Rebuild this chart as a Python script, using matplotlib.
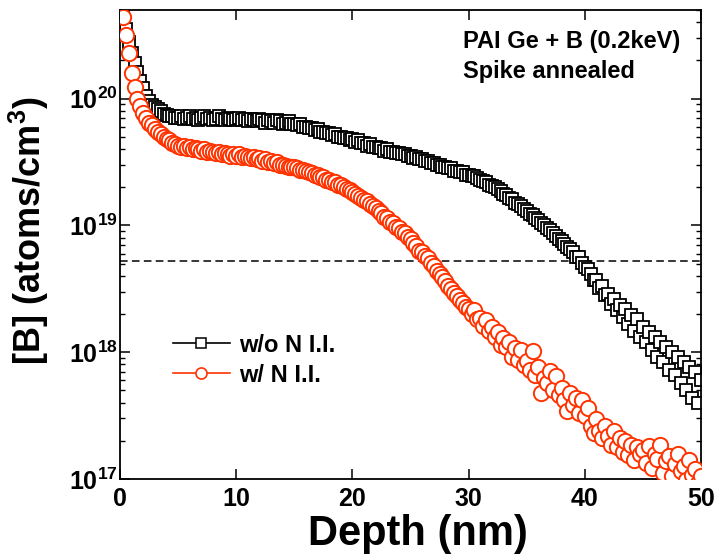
import matplotlib.pyplot as plt
import numpy as np
from matplotlib.lines import Line2D
from matplotlib.ticker import FixedLocator, LogLocator, NullFormatter

plt.rcParams['font.family'] = 'Liberation Sans'
plt.rcParams['font.weight'] = 'bold'
plt.rcParams['mathtext.fontset'] = 'custom'
plt.rcParams['mathtext.rm'] = 'Liberation Sans'
plt.rcParams['mathtext.bf'] = 'Liberation Sans:bold'

# depth (nm) of each SIMS point
depth = [
    0, 0.25, 0.5, 0.75, 1, 1.25, 1.5, 1.75, 2, 2.25, 2.5, 2.75, 3, 3.25, 3.5, 3.75, 4, 4.25, 4.5, 4.75,
    5, 5.25, 5.5, 5.75, 6, 6.25, 6.5, 6.75, 7, 7.25, 7.5, 7.75, 8, 8.25, 8.5, 8.75, 9, 9.25, 9.5, 9.75,
    10, 10.25, 10.5, 10.75, 11, 11.25, 11.5, 11.75, 12, 12.25, 12.5, 12.75, 13, 13.25, 13.5, 13.75, 14, 14.25, 14.5, 14.75,
    15, 15.25, 15.5, 15.75, 16, 16.25, 16.5, 16.75, 17, 17.25, 17.5, 17.75, 18, 18.25, 18.5, 18.75, 19, 19.25, 19.5, 19.75,
    20, 20.25, 20.5, 20.75, 21, 21.25, 21.5, 21.75, 22, 22.25, 22.5, 22.75, 23, 23.25, 23.5, 23.75, 24, 24.25, 24.5, 24.75,
    25, 25.25, 25.5, 25.75, 26, 26.25, 26.5, 26.75, 27, 27.25, 27.5, 27.75, 28, 28.25, 28.5, 28.75, 29, 29.25, 29.5, 29.75,
    30, 30.25, 30.5, 30.75, 31, 31.25, 31.5, 31.75, 32, 32.25, 32.5, 32.75, 33, 33.25, 33.5, 33.75, 34, 34.25, 34.5, 34.75,
    35, 35.25, 35.5, 35.75, 36, 36.25, 36.5, 36.75, 37, 37.25, 37.5, 37.75, 38, 38.25, 38.5, 38.75, 39, 39.25, 39.5, 39.75,
    40, 40.25, 40.5, 40.75, 41, 41.25, 41.5, 41.75, 42, 42.25, 42.5, 42.75, 43, 43.25, 43.5, 43.75, 44, 44.25, 44.5, 44.75,
    45, 45.25, 45.5, 45.75, 46, 46.25, 46.5, 46.75, 47, 47.25, 47.5, 47.75, 48, 48.25, 48.5, 48.75, 49, 49.25, 49.5, 49.75, 50,
]

# log10 of [B] (atoms/cm3), w/o N I.I.
log_b_without_n = [
    20.78, 20.66, 20.55, 20.45, 20.36, 20.28, 20.21, 20.14, 20.08, 20.02, 19.98, 19.95, 19.93, 19.92, 19.90, 19.88, 19.87, 19.86, 19.86, 19.85,
    19.85, 19.86, 19.84, 19.85, 19.86, 19.84, 19.85, 19.83, 19.85, 19.86, 19.84, 19.85, 19.83, 19.84, 19.86, 19.84, 19.83, 19.85, 19.84, 19.83,
    19.84, 19.85, 19.83, 19.84, 19.82, 19.84, 19.83, 19.82, 19.84, 19.83, 19.81, 19.83, 19.82, 19.81, 19.83, 19.82, 19.80, 19.81, 19.82, 19.80,
    19.80, 19.79, 19.80, 19.78, 19.78, 19.77, 19.77, 19.75, 19.76, 19.74, 19.74, 19.73, 19.73, 19.71, 19.72, 19.70, 19.70, 19.69, 19.69, 19.67,
    19.68, 19.66, 19.67, 19.65, 19.65, 19.63, 19.64, 19.62, 19.62, 19.61, 19.61, 19.59, 19.60, 19.58, 19.58, 19.57, 19.57, 19.56, 19.56, 19.55,
    19.55, 19.53, 19.54, 19.52, 19.52, 19.51, 19.51, 19.49, 19.49, 19.48, 19.48, 19.46, 19.46, 19.45, 19.45, 19.43, 19.43, 19.42, 19.42, 19.40,
    19.40, 19.39, 19.39, 19.37, 19.36, 19.35, 19.34, 19.32, 19.31, 19.30, 19.29, 19.27, 19.25, 19.24, 19.22, 19.21, 19.18, 19.17, 19.15, 19.13,
    19.11, 19.09, 19.08, 19.06, 19.04, 19.02, 19.00, 18.98, 18.96, 18.94, 18.92, 18.89, 18.88, 18.85, 18.83, 18.81, 18.79, 18.75, 18.75, 18.70,
    18.67, 18.66, 18.62, 18.57, 18.57, 18.51, 18.52, 18.45, 18.46, 18.38, 18.42, 18.33, 18.37, 18.28, 18.34, 18.22, 18.29, 18.17, 18.26, 18.12,
    18.20, 18.08, 18.16, 18.02, 18.12, 17.96, 18.08, 17.92, 18.04, 17.86, 18.00, 17.82, 17.96, 17.76, 17.92, 17.70, 17.88, 17.64, 17.84, 17.60, 17.78,
]

# log10 of [B] (atoms/cm3), w/ N I.I.
log_b_with_n = [
    20.75, 20.64, 20.50, 20.36, 20.20, 20.09, 20.00, 19.94, 19.89, 19.85, 19.81, 19.79, 19.76, 19.74, 19.72, 19.70, 19.68, 19.67, 19.65, 19.64,
    19.63, 19.62, 19.63, 19.61, 19.62, 19.60, 19.61, 19.60, 19.59, 19.60, 19.58, 19.59, 19.58, 19.57, 19.58, 19.56, 19.57, 19.56, 19.55, 19.56,
    19.55, 19.56, 19.54, 19.55, 19.54, 19.53, 19.54, 19.52, 19.53, 19.51, 19.52, 19.50, 19.51, 19.49, 19.50, 19.48, 19.48, 19.47, 19.46, 19.46,
    19.46, 19.45, 19.44, 19.44, 19.43, 19.42, 19.41, 19.40, 19.40, 19.38, 19.38, 19.36, 19.36, 19.34, 19.34, 19.32, 19.32, 19.30, 19.29, 19.28,
    19.26, 19.25, 19.23, 19.22, 19.20, 19.19, 19.17, 19.15, 19.14, 19.11, 19.10, 19.07, 19.06, 19.03, 19.02, 18.99, 18.98, 18.95, 18.94, 18.91,
    18.89, 18.86, 18.84, 18.80, 18.79, 18.76, 18.74, 18.70, 18.68, 18.64, 18.62, 18.59, 18.56, 18.52, 18.50, 18.47, 18.44, 18.41, 18.39, 18.36,
    18.34, 18.30, 18.33, 18.26, 18.27, 18.21, 18.25, 18.17, 18.20, 18.12, 18.16, 18.06, 18.11, 18.04, 18.08, 17.96, 18.03, 17.94, 18.02, 17.90,
    17.93, 17.86, 18.01, 17.82, 17.88, 17.68, 17.80, 17.76, 17.85, 17.70, 17.81, 17.66, 17.72, 17.62, 17.54, 17.68, 17.58, 17.64, 17.52, 17.62,
    17.50, 17.56, 17.42, 17.36, 17.47, 17.38, 17.32, 17.42, 17.34, 17.27, 17.38, 17.25, 17.32, 17.21, 17.30, 17.19, 17.27, 17.15, 17.25, 17.20,
    17.23, 17.13, 17.26, 17.09, 17.20, 17.16, 17.27, 17.05, 17.14, 17.18, 17.02, 17.12, 17.20, 17.06, 17.10, 16.99, 17.15, 17.03, 17.08, 16.97, 17.02,
]

dashed_level = 5.2e18
x_ticks = [0, 10, 20, 30, 40, 50]
y_decades = [17, 18, 19, 20]
labels = ['w/o N I.I.', 'w/ N I.I.']
note_lines = ['PAI Ge + B (0.2keV)', 'Spike annealed']

red = '#ff3300'

b_without_n = 10.0 ** np.array(log_b_without_n)
b_with_n = 10.0 ** np.array(log_b_with_n)

fig = plt.figure(figsize=(7.17, 5.58), dpi=100)
ax = fig.add_axes([0.1674, 0.1416, 0.8103, 0.8405])

ax.axhline(dashed_level, color='black', lw=1.1, ls=(0, (5, 2.8)), zorder=1)

ax.plot(depth, b_without_n, ls='none', marker='s', ms=9, mfc='white', mec='black', mew=1.3, zorder=2)
ax.plot(depth, b_with_n, ls='none', marker='o', ms=11, mfc='white', mec=red, mew=1.4, zorder=3)

ax.set_yscale('log')
ax.set_xlim(0, 50)
ax.set_ylim(1e17, 5e20)

ax.set_xticks(x_ticks)
ax.set_xticklabels([str(t) for t in x_ticks])
ax.yaxis.set_major_locator(FixedLocator([10.0 ** d for d in y_decades]))
ax.set_yticklabels([r'$\mathbf{10}^{\mathrm{%d}}$' % d for d in y_decades])
ax.yaxis.set_minor_locator(LogLocator(base=10, subs=np.arange(2, 10)))
ax.yaxis.set_minor_formatter(NullFormatter())

ax.tick_params(which='major', direction='in', length=7.5, width=1.1, top=True, right=True, labelsize=18)
ax.tick_params(axis='x', which='major', pad=6)
ax.tick_params(axis='y', which='major', pad=1.5)
ax.tick_params(which='minor', direction='in', length=3.8, width=1.0, right=True)
for s in ax.spines.values():
    s.set_linewidth(1.3)

ax.set_xlabel('Depth (nm)', fontsize=30, fontweight='bold')
ax.xaxis.set_label_coords(0.513, -0.074)
ax.set_ylabel(r'[B] (atoms/cm$^{\mathbf{3}}$)', fontsize=26, fontweight='bold')
ax.yaxis.set_label_coords(-0.118, 0.53)

ax.text(0.590, 0.932, note_lines[0], transform=ax.transAxes, fontsize=17, fontweight='bold', va='center', ha='left')
ax.text(0.590, 0.868, note_lines[1], transform=ax.transAxes, fontsize=17, fontweight='bold', va='center', ha='left')

handles = [
    Line2D([], [], color='black', lw=1.2, marker='s', ms=6.5, mfc='white', mec='black', mew=1.1),
    Line2D([], [], color=red, lw=1.2, marker='o', ms=8, mfc='white', mec=red, mew=1.2),
]
ax.legend(handles, labels, loc='upper left', bbox_to_anchor=(0.091, 0.31), frameon=False,
          handlelength=2.4, handletextpad=0.4, labelspacing=0.3,
          borderpad=0, borderaxespad=0, prop={'weight': 'bold', 'size': 17})

fig.savefig('out.png', dpi=100)
